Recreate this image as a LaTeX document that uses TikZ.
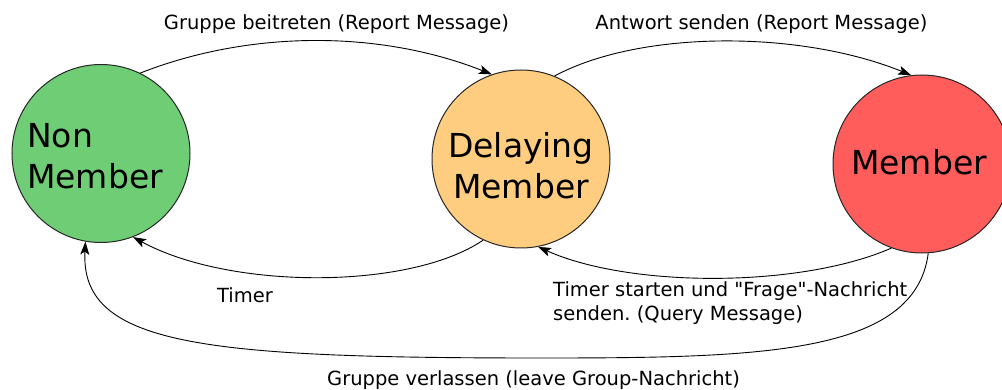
\documentclass[tikz,border=0pt]{standalone}
\usepackage{fontspec}
\setmainfont{DejaVu Sans}[Ligatures=TeXOff]
\usetikzlibrary{arrows.meta}
\definecolor{nmgreen}{RGB}{111,205,118}
\definecolor{dmorange}{RGB}{255,205,128}
\definecolor{mbred}{RGB}{255,92,92}
\frenchspacing
\begin{document}
\begin{tikzpicture}[x=1pt,y=-1pt,
  state/.style={circle,draw=black!85,line width=1pt,minimum size=178pt,inner sep=0pt},
  bigtext/.style={font=\fontsize{33}{41}\selectfont,inner sep=0pt},
  lbl/.style={font=\fontsize{19.5}{24}\selectfont,inner sep=0pt},
  conn/.style={line width=0.9pt,-{Stealth[length=13pt,width=9pt,inset=3pt]}}]
\clip (0,0) rectangle (1002,390);
\node[state,fill=nmgreen] (nm) at (101,153.5) {};
\node[state,fill=dmorange] (dm) at (521,159) {};
\node[state,fill=mbred] (mb) at (922,164) {};
\node[bigtext,align=left,anchor=north west] (nmt) at (27,123) {Non\\Member};
\node[bigtext,align=center,anchor=north] (dmt) at (521,132) {Delaying\\Member};
\node[bigtext,anchor=base] (mbt) at (919,175) {Member};
\node[lbl,anchor=base] (l1) at (336.5,30) {Gruppe beitreten (Report Message)};
\node[lbl,anchor=base] (l2) at (761.5,30) {Antwort senden (Report Message)};
\node[lbl,anchor=base] (l3) at (245,302.5) {Timer};
\node[lbl,align=left,anchor=north west] (l4) at (553,281) {Timer starten und "Frage"-Nachricht\\senden. (Query Message)};
\node[lbl,anchor=base] (l5) at (533.5,385) {Gruppe verlassen (leave Group-Nachricht)};
\draw[conn] (nm.64) .. controls (250,30) and (380,30) .. (dm.109);
\draw[conn] (dm.68) .. controls (640,30) and (800,30) .. (mb.97);
\draw[conn] (dm.245) .. controls (410,290) and (230,290) .. (nm.291);
\draw[conn] (mb.250) .. controls (800,288) and (630,288) .. (dm.281);
\draw[conn] (mb.274) .. controls (915,355) and (760,358) .. (540,358) .. controls (200,358) and (80,345) .. (nm.260);
\end{tikzpicture}
\end{document}
